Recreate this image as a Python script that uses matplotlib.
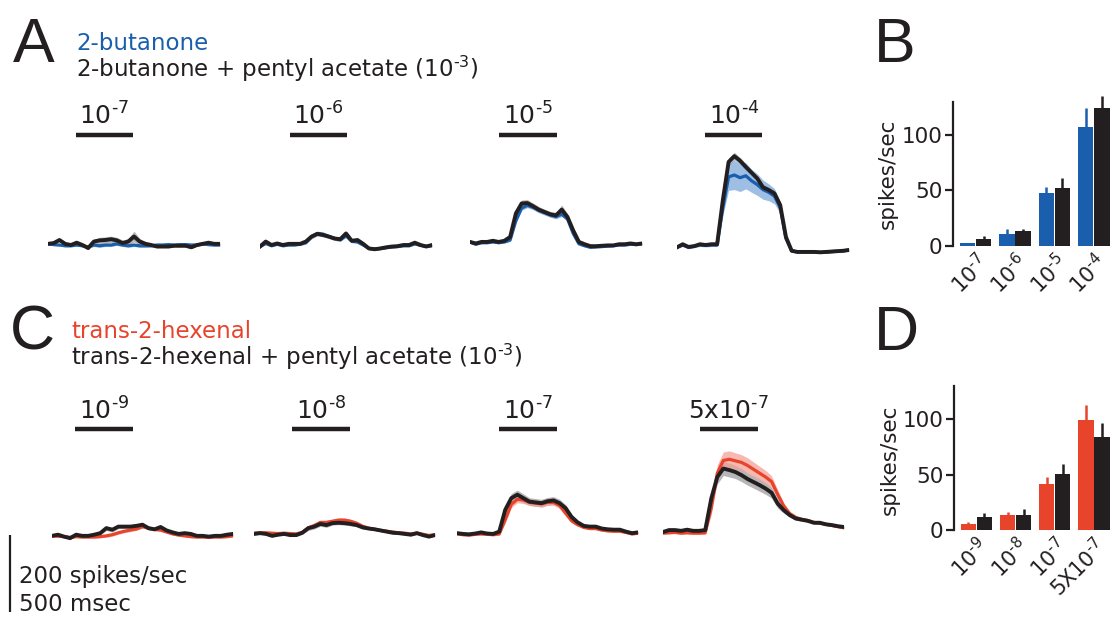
import numpy as np
import matplotlib
matplotlib.use('Agg')
import matplotlib.pyplot as plt
from matplotlib.transforms import ScaledTranslation

plt.rcParams['font.family'] = ['DejaVu Sans']
plt.rcParams['mathtext.fontset'] = 'dejavusans'
plt.rcParams['mathtext.default'] = 'regular'

# ---------------- data ----------------
time_ms = [0, 50, 100, 150, 200, 250, 300, 350, 400, 450, 500, 550, 600, 650, 700,
           750, 800, 850, 900, 950, 1000, 1050, 1100, 1150, 1200, 1250, 1300, 1350,
           1400, 1450, 1500]

conc_A = [r'10$^{\text{-7}}$', r'10$^{\text{-6}}$', r'10$^{\text{-5}}$', r'10$^{\text{-4}}$']
conc_C = [r'10$^{\text{-9}}$', r'10$^{\text{-8}}$', r'10$^{\text{-7}}$', r'5x10$^{\text{-7}}$']
bar_labels_B = [r'10$^{\text{-7}}$', r'10$^{\text{-6}}$', r'10$^{\text{-5}}$', r'10$^{\text{-4}}$']
bar_labels_D = [r'10$^{\text{-9}}$', r'10$^{\text{-8}}$', r'10$^{\text{-7}}$', r'5X10$^{\text{-7}}$']

title_A = ['2-butanone', r'2-butanone + pentyl acetate (10$^{\text{-3}}$)']
title_C = ['trans-2-hexenal', r'trans-2-hexenal + pentyl acetate (10$^{\text{-3}}$)']

# stimulus timing (ms) per panel
stim_on_A = [240, 260, 255, 245]
stim_dur_A = 500
stim_on_C = [190, 315, 350, 305]
stim_dur_C = 480

# spontaneous (baseline) rate per panel, spikes/sec
base_A = [42, 39, 47, 36]
base_C = [42, 47, 49, 55]

# PSTH responses above baseline (spikes/sec): odor alone and odor + pentyl acetate
A_odor = [
    [0, -2, -3, -5, -5, -3, -5, -8, -3, -5, -3, -3, 0, -3, -5, -3, -5, -5, -5, -3, -3, -2, -3, -2, -2, -3, -3, 0, -2, -3, -3],
    [-4, 4, -2, 2, -2, 0, 0, 2, 6, 22, 30, 28, 22, 17, 14, 24, 10, 8, 0, -9, -10, -9, -7, -5, -4, -2, -2, 3, -1, -3, -2],
    [0, -6, -2, -2, 0, -2, 0, 5, 55, 88, 95, 90, 82, 76, 70, 66, 72, 60, 22, -5, -10, -14, -13, -12, -11, -10, -8, -8, -6, -7, -5],
    [-2, 3, -3, 0, 3, 2, 3, 3, 100, 180, 185, 178, 183, 170, 160, 147, 140, 130, 100, 20, -12, -15, -15, -15, -15, -16, -15, -14, -13, -12, -10],
]
A_mix = [
    [0, 2, 10, 0, -3, 3, -3, -11, 6, 9, 10, 12, 9, 2, 6, 19, 6, 0, -3, -7, -7, -7, -5, -5, -5, -9, -3, 0, 3, 0, 0],
    [-4, 9, 0, 4, 0, 3, 3, 3, 9, 22, 29, 26, 22, 17, 15, 30, 11, 13, 3, -9, -11, -9, -6, -4, -3, 0, 0, 6, 0, -4, 0],
    [0, -4, 0, 0, 3, 0, 3, 13, 74, 100, 101, 93, 84, 78, 72, 69, 84, 65, 30, 0, -6, -11, -11, -10, -9, -9, -6, -6, -4, -6, -4],
    [-3, 5, -2, 0, 5, 3, 5, 5, 120, 219, 234, 222, 206, 191, 176, 153, 146, 137, 107, 24, -12, -15, -15, -15, -15, -16, -15, -14, -13, -12, -10],
]
A_odor_err = [
    [3, 3, 3, 3, 3, 3, 3, 3, 4, 4, 4, 4, 4, 4, 4, 4, 4, 4, 3, 3, 3, 3, 3, 3, 3, 3, 3, 3, 3, 3, 3],
    [3, 3, 3, 3, 3, 3, 3, 3, 4, 6, 6, 6, 5, 5, 5, 5, 4, 4, 3, 3, 3, 3, 3, 3, 3, 3, 3, 3, 3, 3, 3],
    [3, 3, 3, 3, 3, 3, 3, 4, 6, 6, 6, 6, 6, 6, 6, 6, 6, 6, 5, 3, 3, 3, 3, 3, 3, 3, 3, 3, 3, 3, 3],
    [4, 4, 4, 4, 4, 4, 4, 4, 20, 35, 38, 36, 34, 30, 28, 25, 22, 20, 15, 8, 4, 3, 3, 3, 3, 3, 3, 3, 3, 3, 3],
]
A_mix_err = [
    [3, 3, 4, 3, 3, 3, 3, 4, 6, 8, 8, 8, 8, 8, 8, 14, 8, 6, 4, 3, 3, 3, 3, 3, 3, 3, 3, 3, 3, 3, 3],
    [3, 3, 3, 3, 3, 3, 3, 3, 4, 5, 5, 5, 5, 5, 5, 6, 5, 4, 3, 3, 3, 3, 3, 3, 3, 3, 3, 3, 3, 3, 3],
    [3, 3, 3, 3, 3, 3, 3, 4, 8, 9, 9, 8, 8, 7, 7, 8, 12, 8, 6, 3, 3, 3, 3, 3, 3, 3, 3, 3, 3, 3, 3],
    [3, 3, 3, 3, 3, 3, 3, 3, 10, 10, 10, 9, 9, 8, 8, 8, 8, 8, 8, 6, 3, 3, 3, 3, 3, 3, 3, 3, 3, 3, 3],
]

C_odor = [
    [0, -1, -2, -4, -2, -3, -3, -3, -2, 0, 3, 8, 12, 15, 18, 24, 20, 17, 15, 10, 5, 2, 0, -2, -3, -3, -4, -3, -3, -2, 0],
    [2, 3, 3, 2, 1, 2, 1, 0, 4, 16, 22, 30, 30, 33, 36, 36, 33, 28, 20, 15, 12, 9, 7, 5, 3, 2, 0, 2, -1, -4, -2],
    [-2, -4, -5, -3, -2, -3, -4, -2, 35, 75, 88, 86, 80, 78, 76, 80, 80, 72, 52, 32, 22, 15, 12, 12, 8, 6, 5, 5, 2, -2, 0],
    [-6, -5, -4, -6, -5, -6, -6, -5, 60, 150, 183, 186, 182, 178, 170, 160, 150, 140, 128, 95, 65, 45, 35, 30, 27, 22, 20, 17, 14, 11, 8],
]
C_mix = [
    [0, 3, -2, -6, 3, 0, 0, 3, 7, 20, 16, 24, 24, 24, 26, 29, 20, 17, 23, 14, 9, 5, 7, 5, 0, 0, -2, 0, 0, 3, 5],
    [0, 2, 0, -5, -2, 0, -3, -3, 3, 15, 19, 26, 23, 28, 29, 28, 26, 23, 17, 14, 12, 9, 6, 3, 2, 0, -2, 2, -3, -7, -3],
    [0, -2, -3, -1, 2, -1, -2, 4, 61, 91, 100, 91, 82, 80, 78, 83, 85, 78, 65, 42, 28, 19, 17, 17, 12, 10, 9, 9, 4, 0, 2],
    [-3, 2, 2, 0, 3, 0, 0, 2, 84, 140, 162, 158, 153, 145, 135, 127, 119, 110, 99, 71, 54, 41, 32, 29, 26, 21, 21, 17, 15, 12, 10],
]
C_odor_err = [
    [3, 3, 3, 3, 3, 3, 3, 3, 3, 4, 4, 4, 4, 4, 4, 4, 4, 4, 4, 3, 3, 3, 3, 3, 3, 3, 3, 3, 3, 3, 3],
    [3, 3, 3, 3, 3, 3, 3, 3, 4, 5, 5, 5, 5, 5, 5, 5, 5, 4, 4, 3, 3, 3, 3, 3, 3, 3, 3, 3, 3, 3, 3],
    [3, 3, 3, 3, 3, 3, 3, 4, 8, 9, 9, 9, 8, 8, 8, 8, 8, 8, 7, 5, 4, 3, 3, 3, 3, 3, 3, 3, 3, 3, 3],
    [3, 3, 3, 3, 3, 3, 3, 4, 18, 22, 22, 22, 21, 20, 20, 19, 18, 17, 15, 12, 8, 5, 4, 4, 3, 3, 3, 3, 3, 3, 3],
]
C_mix_err = [
    [3, 3, 3, 3, 3, 3, 3, 3, 4, 6, 6, 5, 5, 5, 5, 5, 5, 4, 4, 4, 3, 3, 3, 3, 3, 3, 3, 3, 3, 3, 3],
    [3, 3, 3, 3, 3, 3, 3, 3, 4, 6, 6, 6, 6, 5, 5, 5, 5, 4, 4, 3, 3, 3, 3, 3, 3, 3, 3, 3, 3, 3, 3],
    [3, 3, 3, 3, 3, 3, 3, 4, 10, 12, 12, 11, 10, 10, 10, 10, 10, 10, 9, 7, 5, 4, 3, 3, 3, 3, 3, 3, 3, 3, 3],
    [3, 3, 3, 3, 3, 3, 3, 4, 15, 18, 18, 18, 17, 17, 16, 16, 16, 15, 14, 12, 8, 5, 4, 4, 3, 3, 3, 3, 3, 3, 3],
]

# mean odor-evoked response (spikes/sec) and SEM
B_odor = [2, 11, 48, 107.5]
B_odor_err = [0.5, 3.8, 4.7, 17.2]
B_mix = [5.7, 13.5, 52, 124.7]
B_mix_err = [3, 1.3, 9, 10.3]
D_odor = [5.2, 13.6, 41.8, 99.4]
D_odor_err = [1.8, 2.4, 6.1, 13.3]
D_mix = [11.8, 14, 50.3, 84.2]
D_mix_err = [3.2, 4.8, 9.1, 12.2]

# ---------------- style ----------------
BLUE = '#1a5fad'
BLUE_L = '#7fa8dc'
RED = '#e8442b'
RED_L = '#f3a197'
BLACK = '#231f20'
GREY_L = '#a9a9ab'

W, H = 1112, 617
fig = plt.figure(figsize=(W / 100, H / 100), dpi=100)


def add_ax(x, top, w, h):
    return fig.add_axes([x / W, 1 - (top + h) / H, w / W, h / H])


def trace_row(lefts, width, top, odor, mix, oerr, merr, base, col, col_l,
              stim_on, stim_dur, labels, bar_y, lab_y):
    axes = []
    t = np.array(time_ms)
    for i in range(4):
        ax = add_ax(lefts[i], top, width, 160)
        o = base[i] + np.array(odor[i], float)
        m = base[i] + np.array(mix[i], float)
        oe = np.array(oerr[i], float)
        me = np.array(merr[i], float)
        ax.fill_between(t, m - me, m + me, color=GREY_L, alpha=0.85, lw=0)
        ax.fill_between(t, o - oe, o + oe, color=col_l, alpha=0.75, lw=0)
        ax.plot(t, o, color=col, lw=2.3, solid_joinstyle='round')
        ax.plot(t, m, color=BLACK, lw=2.8, solid_joinstyle='round')
        ax.plot([stim_on[i], stim_on[i] + stim_dur], [bar_y, bar_y], color=BLACK,
                lw=3.2, solid_capstyle='butt', clip_on=False)
        ax.text(stim_on[i] + stim_dur / 2, lab_y, labels[i], ha='center',
                va='baseline', fontsize=18, color=BLACK)
        ax.set_xlim(0, 1500)
        ax.set_ylim(0, 416)
        ax.axis('off')
        axes.append(ax)
    return axes


axA = trace_row([48, 260, 470, 677], 172, 100, A_odor, A_mix, A_odor_err, A_mix_err,
                base_A, BLUE, BLUE_L, stim_on_A, stim_dur_A, conc_A, 325, 351)
axC = trace_row([52, 254, 457, 663], 181, 392, C_odor, C_mix, C_odor_err, C_mix_err,
                base_C, RED, RED_L, stim_on_C, stim_dur_C, conc_C, 320, 345)

# scale bar (200 spikes/sec) in the first C panel's units
axC[0].plot([-348, -348], [-156, 44], color=BLACK, lw=1.6, clip_on=False,
            solid_capstyle='butt')
fig.text(19 / W, 1 - 583 / H, '200 spikes/sec', fontsize=16.5, color=BLACK, va='baseline')
fig.text(19 / W, 1 - 611 / H, '500 msec', fontsize=16.5, color=BLACK, va='baseline')


def bar_panel(left, bottom, odor, oerr, mix, merr, col, labels, ylab_y):
    ppu = 1.107
    ax = add_ax(left, bottom - 138 * ppu, 1112 - left, 138 * ppu)
    x = np.arange(4)
    z = np.zeros(4)
    ax.bar(x - 0.205, odor, width=0.39, color=col, lw=0,
           yerr=[z, oerr], error_kw=dict(ecolor=col, elinewidth=1.8, capsize=0))
    ax.bar(x + 0.205, mix, width=0.39, color=BLACK, lw=0,
           yerr=[z, merr], error_kw=dict(ecolor=BLACK, elinewidth=1.8, capsize=0))
    ax.set_xlim(-0.57, 3.46)
    ax.set_ylim(0, 138)
    for s in ['top', 'right', 'bottom']:
        ax.spines[s].set_visible(False)
    ax.spines['left'].set_bounds(0, 130)
    ax.spines['left'].set_linewidth(1.6)
    ax.spines['left'].set_color(BLACK)
    ax.set_yticks([0, 50, 100])
    ax.tick_params(axis='y', length=5.5, width=1.6, labelsize=15.5, pad=2, colors=BLACK)
    ax.set_xticks(x)
    ax.set_xticklabels(labels, rotation=45, ha='right', rotation_mode='anchor',
                       fontsize=15, color=BLACK)
    ax.tick_params(axis='x', length=0, pad=3)
    off = ScaledTranslation(0.0, 0, fig.dpi_scale_trans)
    for lbl in ax.get_xticklabels():
        lbl.set_transform(lbl.get_transform() + off)
    ax.set_ylabel('spikes/sec', fontsize=15.5, color=BLACK)
    ax.yaxis.set_label_coords(-0.345, ylab_y)
    return ax


axB = bar_panel(953, 245.7, B_odor, B_odor_err, B_mix, B_mix_err, BLUE, bar_labels_B, 0.47)
axD = bar_panel(954, 530, D_odor, D_odor_err, D_mix, D_mix_err, RED, bar_labels_D, 0.46)

# panel letters and titles
LET = dict(fontsize=45, color=BLACK, va='baseline', family='Liberation Sans')
fig.text(13 / W, 1 - 62 / H, 'A', **LET)
fig.text(874 / W, 1 - 62 / H, 'B', **LET)
fig.text(10 / W, 1 - 350 / H, 'C', **LET)
fig.text(874 / W, 1 - 350 / H, 'D', **LET)

fig.text(76 / W, 1 - 49.5 / H, title_A[0], fontsize=16.5, color=BLUE, va='baseline')
fig.text(76 / W, 1 - 76.5 / H, title_A[1], fontsize=16.5, color=BLACK, va='baseline')
fig.text(71 / W, 1 - 338.5 / H, title_C[0], fontsize=16.5, color=RED, va='baseline')
fig.text(71 / W, 1 - 365 / H, title_C[1], fontsize=16.5, color=BLACK, va='baseline')

fig.savefig('out.png', dpi=100)
